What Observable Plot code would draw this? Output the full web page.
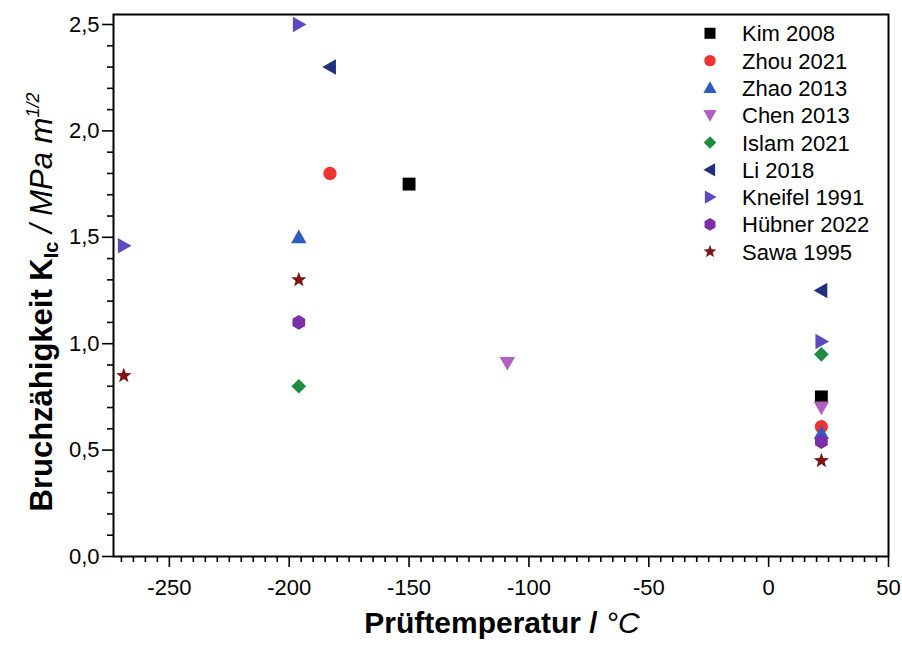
<!DOCTYPE html>
<html><head><meta charset="utf-8">
<script src="https://cdn.jsdelivr.net/npm/d3@7"></script>
<script src="https://cdn.jsdelivr.net/npm/@observablehq/plot@0.6"></script>
<style>html,body{margin:0;padding:0;background:#fff;overflow:hidden}</style>
</head><body><div id="chart"></div>
<script>
// ---- data ----
const series = ["Kim 2008","Zhou 2021","Zhao 2013","Chen 2013","Islam 2021","Li 2018","Kneifel 1991","Hübner 2022","Sawa 1995"];
const colors = ["#000000","#ee3330","#2f5cbf","#b160c2","#1e8c3e","#24307f","#5a4cbd","#7a2fa7","#7d1414"];
const shapes = ["square","circle","triangleUp","triangleDown","diamond","triangleLeft","triangleRight","hexagon","star"];
const temperature = [[-150,22],[-183,22],[-196,22],[-109,22],[-196,22],[-183,22],[-269,-196,22],[-196,22],[-269,-196,22]];
const kic = [[1.75,0.75],[1.80,0.61],[1.50,0.58],[0.91,0.70],[0.80,0.95],[2.30,1.25],[1.46,2.50,1.01],[1.10,0.54],[0.85,1.30,0.45]];
const xTicks = [-250,-200,-150,-100,-50,0,50];
const yTicks = [0,0.5,1,1.5,2,2.5];
const xMinor = d3.range(-270, 50, 5).filter(d => d % 50 !== 0);
const yMinor = d3.range(1, 25).map(d => d / 10).filter(d => Math.round(d * 10) % 5 !== 0);

// ---- symbols ----
function poly(ctx, pts) { ctx.moveTo(pts[0][0], pts[0][1]); for (let i = 1; i < pts.length; i++) ctx.lineTo(pts[i][0], pts[i][1]); ctx.closePath(); }
const R = size => Math.sqrt(size / Math.PI);
const symbolDefs = {
  square: {draw(c, s) { const r = R(s) * 0.92; c.rect(-r, -r, 2 * r, 2 * r); }},
  circle: {draw(c, s) { const r = R(s) * 0.95; c.moveTo(r, 0); c.arc(0, 0, r, 0, 2 * Math.PI); }},
  triangleUp: {draw(c, s) { const r = R(s); poly(c, [[0, -1.1 * r], [1.1 * r, 0.85 * r], [-1.1 * r, 0.85 * r]]); }},
  triangleDown: {draw(c, s) { const r = R(s); poly(c, [[0, 1.1 * r], [1.1 * r, -0.85 * r], [-1.1 * r, -0.85 * r]]); }},
  triangleLeft: {draw(c, s) { const r = R(s); poly(c, [[-1.1 * r, 0], [0.85 * r, -1.1 * r], [0.85 * r, 1.1 * r]]); }},
  triangleRight: {draw(c, s) { const r = R(s); poly(c, [[1.1 * r, 0], [-0.85 * r, -1.1 * r], [-0.85 * r, 1.1 * r]]); }},
  diamond: {draw(c, s) { const r = R(s) * 1.05; poly(c, [[0, -r], [r, 0], [0, r], [-r, 0]]); }},
  hexagon: {draw(c, s) { const r = R(s) * 1.05; poly(c, d3.range(6).map(k => [r * Math.cos(Math.PI / 2 + k * Math.PI / 3), -r * Math.sin(Math.PI / 2 + k * Math.PI / 3)])); }},
  star: {draw(c, s) { const r = R(s) * 1.15, ri = r * 0.42; poly(c, d3.range(10).map(k => { const a = -Math.PI / 2 + k * Math.PI / 5, rr = k % 2 ? ri : r; return [rr * Math.cos(a), rr * Math.sin(a)]; })); }}
};

const rows = series.flatMap((s, i) => temperature[i].map((t, j) => ({series: s, t, k: kic[i][j]})));
const font = "'Liberation Sans', Arial, Helvetica, sans-serif";

const plot = Plot.plot({
  width: 902, height: 646,
  marginLeft: 113, marginRight: 14, marginTop: 14, marginBottom: 90,
  x: {domain: [-273.3, 50], label: null},
  y: {domain: [0, 2.547], label: null},
  style: {fontFamily: font, fontSize: "22px", color: "black", background: "white"},
  marks: [
    Plot.axisX(xMinor, {tickSize: 6, tickFormat: () => "", strokeWidth: 1.6, label: null}),
    Plot.axisX(xTicks, {tickSize: 11, tickPadding: 12, tickFormat: d => String(d), strokeWidth: 1.6, label: null}),
    Plot.axisY(yMinor, {tickSize: 6, tickFormat: () => "", strokeWidth: 1.6, label: null}),
    Plot.axisY(yTicks, {tickSize: 11, tickPadding: 3, tickFormat: d => d.toFixed(1).replace(".", ","), strokeWidth: 1.6, label: null}),
    Plot.frame({stroke: "black", strokeWidth: 2}),
    ...series.map((s, i) => Plot.dot(rows.filter(d => d.series === s), {x: "t", y: "k", fill: colors[i], symbol: symbolDefs[shapes[i]], r: 7}))
  ]
});
document.getElementById("chart").appendChild(plot);

const svg = d3.select(plot);
// legend
const lg = svg.append("g").attr("font-family", font).attr("font-size", 22);
series.forEach((s, i) => {
  const y = 33.3 + 27.3 * i;
  lg.append("path").attr("transform", `translate(710,${y})`)
    .attr("d", d3.symbol(symbolDefs[shapes[i]], Math.PI * 36)()).attr("fill", colors[i]);
  lg.append("text").attr("x", 742).attr("y", y + 8).attr("text-anchor", "start").text(s);
});
// axis titles
const xt = svg.append("text").attr("x", 502).attr("y", 633).attr("text-anchor", "middle")
  .attr("font-family", font).attr("font-size", 30);
xt.append("tspan").attr("font-weight", "bold").text("Prüftemperatur /");
xt.append("tspan").attr("font-style", "italic").text(" °C");

const yt = svg.append("text").attr("transform", "translate(52,302) rotate(-90)").attr("text-anchor", "middle")
  .attr("font-family", font).attr("font-size", 31);
yt.append("tspan").attr("font-weight", "bold").text("Bruchzähigkeit K");
yt.append("tspan").attr("font-weight", "bold").attr("font-size", 20).attr("dy", 6).text("Ic");
yt.append("tspan").attr("font-style", "italic").attr("dy", -6).text(" / MPa m");
yt.append("tspan").attr("font-style", "italic").attr("font-size", 18).attr("dy", -13).text("1/2");
</script>
</body></html>
